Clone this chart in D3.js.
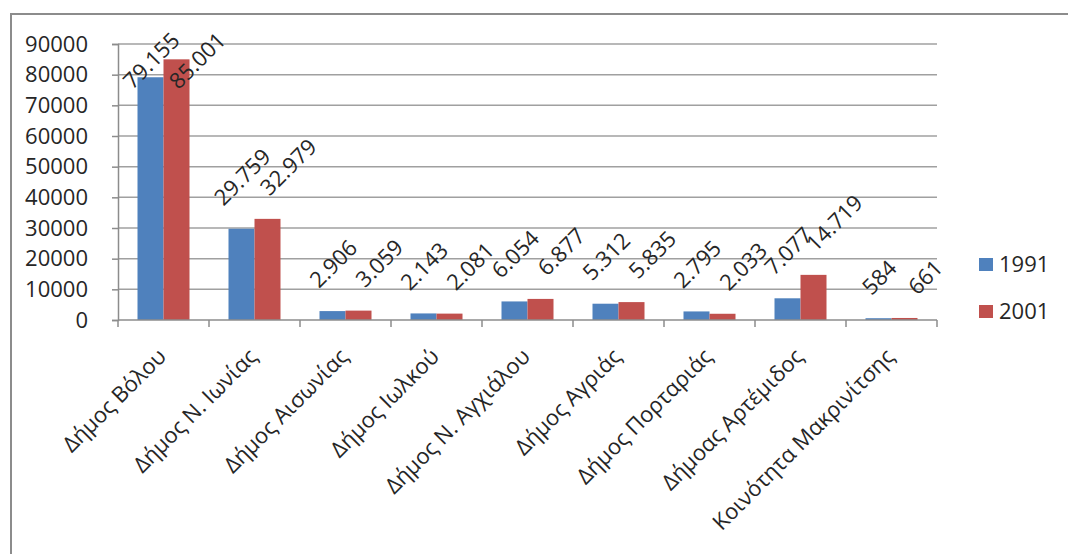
<!DOCTYPE html>
<html>
<head>
<meta charset="utf-8">
<script src="https://cdn.jsdelivr.net/npm/d3@7"></script>
<style>
  html, body { margin: 0; padding: 0; background: #fff; }
  svg { display: block; }
  text { font-family: "Open Sans", "Noto Sans", sans-serif; fill: #262626; }
</style>
</head>
<body>
<svg id="chart" width="1068" height="554"></svg>
<script>
const categories = [
  "Δήμος Βόλου",
  "Δήμος Ν. Ιωνίας",
  "Δήμος Αισωνίας",
  "Δήμος Ιωλκού",
  "Δήμος Ν. Αγχιάλου",
  "Δήμος Αγριάς",
  "Δήμος Πορταριάς",
  "Δήμοας Αρτέμιδος",
  "Κοινότητα Μακρινίτσης"
];
const seriesNames = ["1991", "2001"];
const values1991 = [79155, 29759, 2906, 2143, 6054, 5312, 2795, 7077, 584];
const values2001 = [85001, 32979, 3059, 2081, 6877, 5835, 2033, 14719, 661];
const yTicks = [0, 10000, 20000, 30000, 40000, 50000, 60000, 70000, 80000, 90000];
const colors = ["#4F81BD", "#C0504D"];

const seriesValues = [values1991, values2001];
const svg = d3.select("#chart");

// outer frame (only top and left edges visible)
svg.append("path")
  .attr("d", "M11,554 L11,14 L1068,14")
  .attr("fill", "none").attr("stroke", "#8c8c8c").attr("stroke-width", 2);

const plot = { left: 118, right: 937, top: 44, bottom: 320 };

const x0 = d3.scaleBand().domain(categories).range([plot.left, plot.right]).padding(0);
const x1 = d3.scaleBand().domain(seriesNames).range([0, x0.bandwidth()])
  .paddingInner(0).paddingOuter(0.75);
const y = d3.scaleLinear().domain([0, 90000]).range([plot.bottom, plot.top]);

// gridlines
svg.append("g").selectAll("line").data(yTicks.filter(d => d > 0)).join("line")
  .attr("x1", plot.left).attr("x2", plot.right)
  .attr("y1", d => y(d)).attr("y2", d => y(d))
  .attr("stroke", "#a0a0a0").attr("stroke-width", 1.5);

// y axis
const yAxis = svg.append("g").attr("transform", `translate(${plot.left},0)`)
  .call(d3.axisLeft(y).tickValues(yTicks).tickSize(6).tickPadding(24).tickFormat(d3.format("d")));
yAxis.select(".domain").attr("stroke", "#8c8c8c").attr("stroke-width", 1.5);
yAxis.selectAll(".tick line").attr("stroke", "#8c8c8c").attr("stroke-width", 1.5);
yAxis.selectAll(".tick text").attr("font-size", 22).style("fill", "#262626")
  .attr("font-family", "'Open Sans', sans-serif");

// bars
const groups = svg.append("g").selectAll("g").data(categories).join("g")
  .attr("transform", d => `translate(${x0(d)},0)`);
groups.selectAll("rect")
  .data((c, i) => seriesNames.map((s, j) => ({ s, j, v: seriesValues[j][i] })))
  .join("rect")
  .attr("x", d => x1(d.s))
  .attr("width", x1.bandwidth())
  .attr("y", d => y(d.v))
  .attr("height", d => y(0) - y(d.v))
  .attr("fill", d => colors[d.j]);

// x axis
const xAxis = svg.append("g").attr("transform", `translate(0,${plot.bottom})`);
xAxis.append("line").attr("x1", plot.left).attr("x2", plot.right)
  .attr("stroke", "#8c8c8c").attr("stroke-width", 1.5);
const boundaries = categories.map(c => x0(c)).concat([plot.right]);
xAxis.selectAll("line.tk").data(boundaries).join("line").attr("class", "tk")
  .attr("x1", d => d).attr("x2", d => d).attr("y1", 0).attr("y2", 7)
  .attr("stroke", "#8c8c8c").attr("stroke-width", 1.5);
xAxis.selectAll("text").data(categories).join("text")
  .attr("transform", d => `translate(${x0(d) + x0.bandwidth() / 2 - 7},${27}) rotate(-45)`)
  .attr("text-anchor", "end")
  .attr("dy", "0.7em")
  .attr("font-size", 22)
  .text(d => d);

// data labels
const fmt = v => d3.format(",")(v).replace(/,/g, ".");
const labels = svg.append("g");
categories.forEach((c, i) => {
  seriesNames.forEach((s, j) => {
    const v = seriesValues[j][i];
    const cx = x0(c) + x1(s) + x1.bandwidth() / 2 + (j === 1 ? 20 : 0);
    const t = labels.append("text")
      .attr("font-size", 22)
      .attr("text-anchor", "middle")
      .attr("dominant-baseline", "central")
      .text(fmt(v));
    const L = t.node().getComputedTextLength();
    const half = (L / 2 + 9) * Math.SQRT1_2;
    let cy = y(v) - 22 - half;
    if (cy - half < 29) cy = 29 + half;
    t.attr("transform", `translate(${cx},${cy}) rotate(-45)`);
  });
});

// legend
const legend = svg.append("g");
seriesNames.forEach((s, j) => {
  const ly = 264 + j * 47;
  legend.append("rect").attr("x", 979).attr("y", ly - 6).attr("width", 14).attr("height", 13)
    .attr("fill", colors[j]);
  legend.append("text").attr("x", 999).attr("y", ly).attr("dy", "0.35em")
    .attr("font-size", 22).text(s);
});
</script>
</body>
</html>
